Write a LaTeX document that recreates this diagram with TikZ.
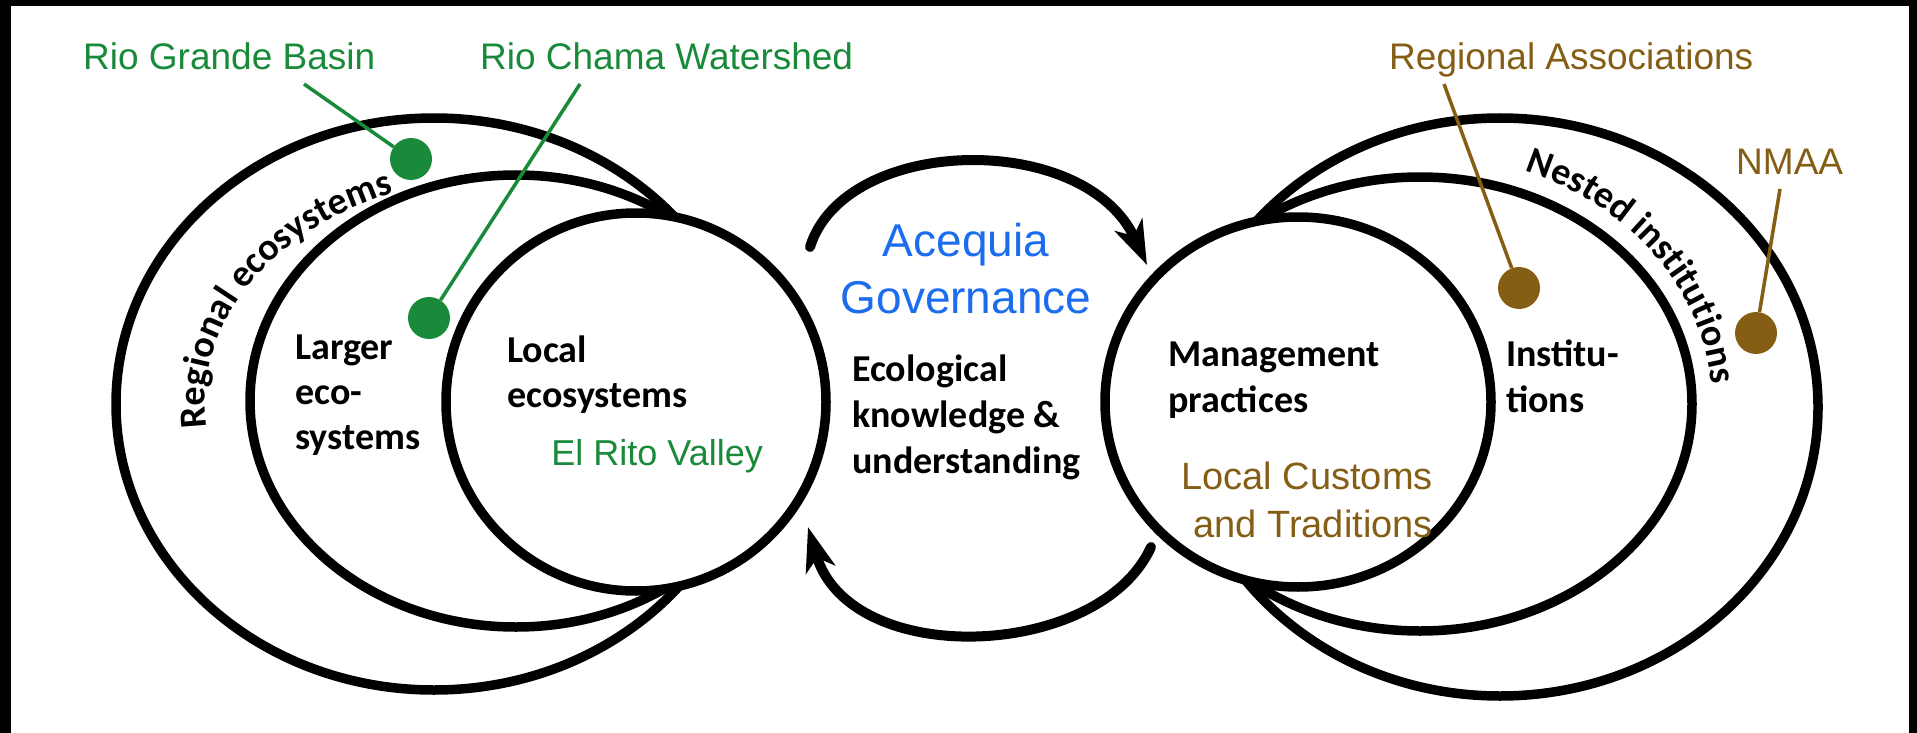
\documentclass[tikz,border=0pt]{standalone}
\usepackage{fontspec}
\setmainfont{Liberation Sans}
\newfontfamily\blackfont{Carlito}
\usetikzlibrary{arrows.meta,decorations.text}
\definecolor{ecogreen}{RGB}{24,138,58}
\definecolor{instbrown}{RGB}{133,94,22}
\definecolor{govblue}{RGB}{28,108,238}
\newcommand{\tagsize}{\fontsize{37}{46}\selectfont}
\newcommand{\insize}{\fontsize{36}{48}\selectfont}
\newcommand{\blksize}{\blackfont\bfseries\fontsize{38}{45}\selectfont}

\begin{document}
\begin{tikzpicture}[x=1pt, y=-1pt,
  ring/.style = {draw, line width=9.5pt, fill=white},
  dot/.style = {circle, minimum size=42pt, inner sep=0pt},
  lead/.style = {line width=3.5pt},
  tag/.style = {inner sep=0pt, font=\tagsize},
  intag/.style = {inner sep=0pt, font=\insize},
  blk/.style = {inner sep=0pt, align=left, font=\blksize},
  cyc/.style = {line width=10pt, line cap=round, -{Stealth[length=44pt,width=30pt,inset=12pt]}}]
  % frame
  \useasboundingbox (0,0) rectangle (1917,733);
  \fill[black] (0,0) rectangle (11,733);
  \fill[black] (0,0) rectangle (1917,6);
  \fill[black] (1909,0) rectangle (1917,733);
  % ecosystems
  \draw[ring] (434,404) ellipse [x radius=318, y radius=286];
  \draw[ring] (516,401) ellipse [x radius=266, y radius=226];
  \draw[ring] (636,402) ellipse [x radius=190, y radius=189];
  % institutions
  \draw[ring] (1500,407) ellipse [x radius=318, y radius=289];
  \draw[ring] (1420,404) ellipse [x radius=272, y radius=227];
  \draw[ring] (1298,402) ellipse [x radius=193, y radius=185];
  % feedback arrows
  \draw[cyc] (810,247) .. controls (845,135) and (1085,130) .. (1147,265);
  \draw[cyc] (1151,547) .. controls (1100,660) and (850,670) .. (808,527);
  % curved labels
  \path[decorate, decoration={text along path, text align=left,
      text={|\blksize|Regional ecosystems}}]
    (500,404) ++(174:295 and 226) arc[start angle=174, end angle=275, x radius=295, y radius=226];
  \path[decorate, decoration={text along path, text align=left,
      text={|\blksize|Nested institutions}}]
    (1420,404) ++(291:292 and 250) arc[start angle=291, end angle=385, x radius=292, y radius=250];
  % dots
  \node[dot, fill=ecogreen] (rgb-dot) at (411,159) {};
  \node[dot, fill=ecogreen] (rcw-dot) at (429,318) {};
  \node[dot, fill=instbrown] (ra-dot) at (1519,288) {};
  \node[dot, fill=instbrown] (nmaa-dot) at (1756,333) {};
  % labels
  \node[tag, text=ecogreen, anchor=base west] (rgb) at (83,70) {Rio Grande Basin};
  \node[tag, text=ecogreen, anchor=base west] (rcw) at (480,70) {Rio Chama Watershed};
  \node[tag, text=instbrown, anchor=base west] (ra) at (1389,70) {Regional Associations};
  \node[tag, text=instbrown, anchor=base west] (nmaa) at (1736,175) {NMAA};
  \coordinate (rgb-end) at (304,84);
  \coordinate (rcw-end) at (580,84);
  \coordinate (ra-end) at (1444,84);
  \coordinate (nmaa-end) at (1780,189);
  \draw[lead, ecogreen] (rgb-end) -- (rgb-dot);
  \draw[lead, ecogreen] (rcw-end) -- (rcw-dot);
  \draw[lead, instbrown] (ra-end) -- (ra-dot);
  \draw[lead, instbrown] (nmaa-end) -- (nmaa-dot);
  \node[inner sep=0pt, font=\fontsize{46}{57}\selectfont, text=govblue, align=center, anchor=base] (gov) at (966,313) {Acequia\\Governance};
  \node[blk, anchor=base west] (larger) at (295,449) {Larger\\eco-\\systems};
  \node[blk, anchor=base west] (local) at (507,407) {Local\\ecosystems};
  \node[intag, text=ecogreen, anchor=base east] (rito) at (763,465) {El Rito Valley};
  \node[blk, anchor=base west, font=\blackfont\bfseries\fontsize{38}{46}\selectfont] (know) at (852,473) {Ecological\\knowledge \&\\understanding};
  \node[blk, anchor=base west, font=\blackfont\bfseries\fontsize{38}{46}\selectfont] (mgmt) at (1168,412) {Management\\practices};
  \node[blk, anchor=base west, font=\blackfont\bfseries\fontsize{38}{46}\selectfont] (inst) at (1506,412) {Institu-\\tions};
  \node[intag, text=instbrown, align=right, anchor=base east, font=\fontsize{38}{48}\selectfont] (customs) at (1433,537) {Local Customs\\and Traditions};
\end{tikzpicture}
\end{document}
